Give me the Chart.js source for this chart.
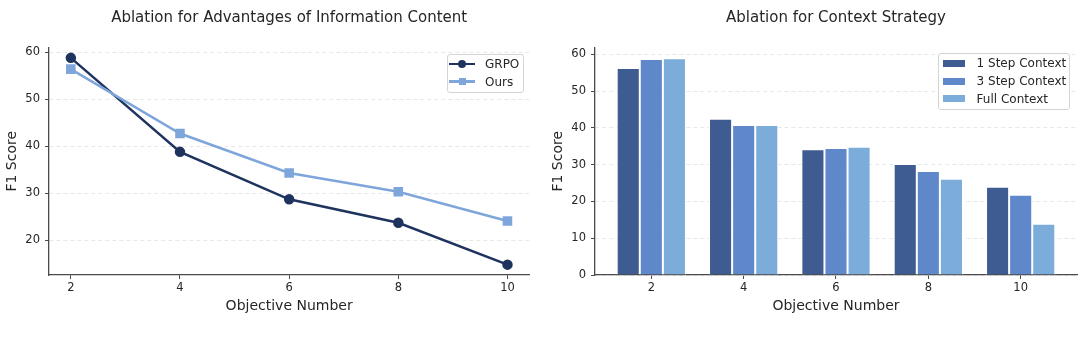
<!DOCTYPE html>
<html>
<head>
<meta charset="utf-8">
<script src="https://cdn.jsdelivr.net/npm/chart.js@4.4.1/dist/chart.umd.min.js"></script>
<style>
  body { margin: 0; background: #fff; }
  #wrap { position: relative; width: 1080px; height: 340px; font-family: "DejaVu Sans", sans-serif; }
  canvas { position: absolute; top: 0; }
  .legend { position: absolute; border: 1px solid #d4d4d4; border-radius: 3px; background: rgba(255,255,255,0.85); box-sizing: border-box; }
  .legend .txt { position: absolute; font-size: 12px; line-height: 16px; color: #262626; white-space: nowrap; }
  .legend .mk { position: absolute; }
</style>
</head>
<body>
<div id="wrap">
  <canvas id="chartLinhas" width="540" height="340" style="left:0"></canvas>
  <canvas id="chartBarras" width="540" height="340" style="left:540px"></canvas>
  <div id="legendaLinhas" class="legend" style="left:447px;top:54px;width:77px;height:39px"></div>
  <div id="legendaBarras" class="legend" style="left:938px;top:53px;width:132px;height:57px"></div>
</div>
<script>
// ---- dados ----
const objetivos = [2, 4, 6, 8, 10];

const grpo = [58.8, 38.8, 28.7, 23.7, 14.8];
const ours = [56.4, 42.7, 34.3, 30.3, 24.1];

const step1 = [56.3, 42.5, 34.2, 30.2, 24.0];
const step3 = [58.7, 40.8, 34.5, 28.3, 21.8];
const fullCtx = [58.9, 40.8, 34.9, 26.2, 13.9];

const ticksLinhas = [20, 30, 40, 50, 60];
const ticksBarras = [0, 10, 20, 30, 40, 50, 60];

// ---- estilo ----
const FONTE = '"DejaVu Sans", sans-serif';
const TEXTO = '#262626';
const EIXO = '#4a4a4a';

const pontos = serie => objetivos.map((x, i) => ({ x: x, y: serie[i] }));

function escalaX(min, max) {
  return {
    type: 'linear', min: min, max: max, offset: false,
    afterBuildTicks: s => { s.ticks = objetivos.map(v => ({ value: v })); },
    afterFit: s => { s.height = 50; },
    grid: { drawOnChartArea: false, offset: false, tickLength: 4, tickColor: EIXO, tickWidth: 1 },
    border: { color: EIXO, width: 1.3 },
    ticks: { color: TEXTO, font: { family: FONTE, size: 11.5 }, padding: 2, maxRotation: 0, autoSkip: false },
    title: { display: true, text: 'Objective Number', color: TEXTO, font: { family: FONTE, size: 14 }, padding: { top: 4, bottom: 10 } }
  };
}

function escalaY(min, max, ticks, largura, padTitulo) {
  return {
    type: 'linear', min: min, max: max,
    afterBuildTicks: s => { s.ticks = ticks.map(v => ({ value: v })); },
    afterFit: s => { s.width = largura; },
    grid: { color: '#e2e2e2', lineWidth: 0.8, tickLength: 4, tickColor: EIXO, tickWidth: 1, tickBorderDash: [] },
    border: { color: EIXO, width: 1.3, dash: [4, 3] },
    ticks: { color: TEXTO, font: { family: FONTE, size: 11.5 }, padding: 5 },
    title: { display: true, text: 'F1 Score', color: TEXTO, font: { family: FONTE, size: 14 }, padding: { top: padTitulo, bottom: 0 } }
  };
}

function titulo(texto) {
  return {
    display: true, text: texto, fullSize: false, color: TEXTO,
    font: { family: FONTE, size: 15, weight: 'normal' },
    padding: { top: 9, bottom: 20.5 }
  };
}

// ---- grafico de linhas ----
new Chart(document.getElementById('chartLinhas'), {
  type: 'line',
  data: {
    datasets: [
      { label: 'GRPO', data: pontos(grpo), borderColor: '#1f335f', backgroundColor: '#1f335f',
        borderWidth: 2.5, pointStyle: 'circle', pointRadius: 4, tension: 0, order: 1 },
      { label: 'Ours', data: pontos(ours), borderColor: '#7fa6db', backgroundColor: '#7fa6db',
        borderWidth: 2.5, pointStyle: 'rect', pointRadius: 5, tension: 0, order: 0 }
    ]
  },
  options: {
    responsive: false, animation: false,
    layout: { padding: { left: 0, right: 10.7, top: 0, bottom: 15 } },
    scales: { x: escalaX(1.6, 10.4), y: escalaY(12.6, 61.0, ticksLinhas, 49, 3.5) },
    plugins: { legend: { display: false }, tooltip: { enabled: false }, title: titulo('Ablation for Advantages of Information Content') }
  }
});

// ---- grafico de barras ----
const barra = (label, serie, cor) => ({
  label: label, data: pontos(serie), backgroundColor: cor, borderColor: '#ffffff',
  borderWidth: 1, categoryPercentage: 0.75, barPercentage: 1
});

new Chart(document.getElementById('chartBarras'), {
  type: 'bar',
  data: {
    datasets: [
      barra('1 Step Context', step1, '#3e5b92'),
      barra('3 Step Context', step3, '#5e88ca'),
      barra('Full Context', fullCtx, '#7cacda')
    ]
  },
  options: {
    responsive: false, animation: false,
    layout: { padding: { left: 0, right: 3, top: 0, bottom: 15 } },
    scales: { x: escalaX(0.78, 11.22), y: escalaY(0, 61.85, ticksBarras, 55, 10) },
    plugins: { legend: { display: false }, tooltip: { enabled: false }, title: titulo('Ablation for Context Strategy') }
  }
});

// ---- legendas (html por cima do canvas) ----
function montarLegenda(id, itens, centro0, passo, xTexto) {
  const box = document.getElementById(id);
  itens.forEach((it, i) => {
    const cy = centro0 + i * passo;
    if (it.tipo === 'patch') {
      const p = document.createElement('div');
      p.className = 'mk';
      p.style.cssText = `left:4px;top:${cy - 3.5}px;width:22px;height:7px;background:${it.cor}`;
      box.appendChild(p);
    } else {
      const l = document.createElement('div');
      l.className = 'mk';
      l.style.cssText = `left:1px;top:${cy - 1.25}px;width:26px;height:2.5px;background:${it.cor}`;
      box.appendChild(l);
      const m = document.createElement('div');
      m.className = 'mk';
      const t = it.tipo === 'circle' ? 8 : 7;
      m.style.cssText = `left:${14 - t / 2}px;top:${cy - t / 2}px;width:${t}px;height:${t}px;background:${it.cor};` +
        (it.tipo === 'circle' ? 'border-radius:50%' : '');
      box.appendChild(m);
    }
    const tx = document.createElement('div');
    tx.className = 'txt';
    tx.style.left = xTexto + 'px';
    tx.style.top = (cy - 8) + 'px';
    tx.textContent = it.label;
    box.appendChild(tx);
  });
}

montarLegenda('legendaLinhas', [
  { label: 'GRPO', cor: '#1f335f', tipo: 'circle' },
  { label: 'Ours', cor: '#7fa6db', tipo: 'rect' }
], 9, 17.7, 37);

montarLegenda('legendaBarras', [
  { label: '1 Step Context', cor: '#3e5b92', tipo: 'patch' },
  { label: '3 Step Context', cor: '#5e88ca', tipo: 'patch' },
  { label: 'Full Context', cor: '#7cacda', tipo: 'patch' }
], 9.3, 17.7, 37.6);
</script>
</body>
</html>
